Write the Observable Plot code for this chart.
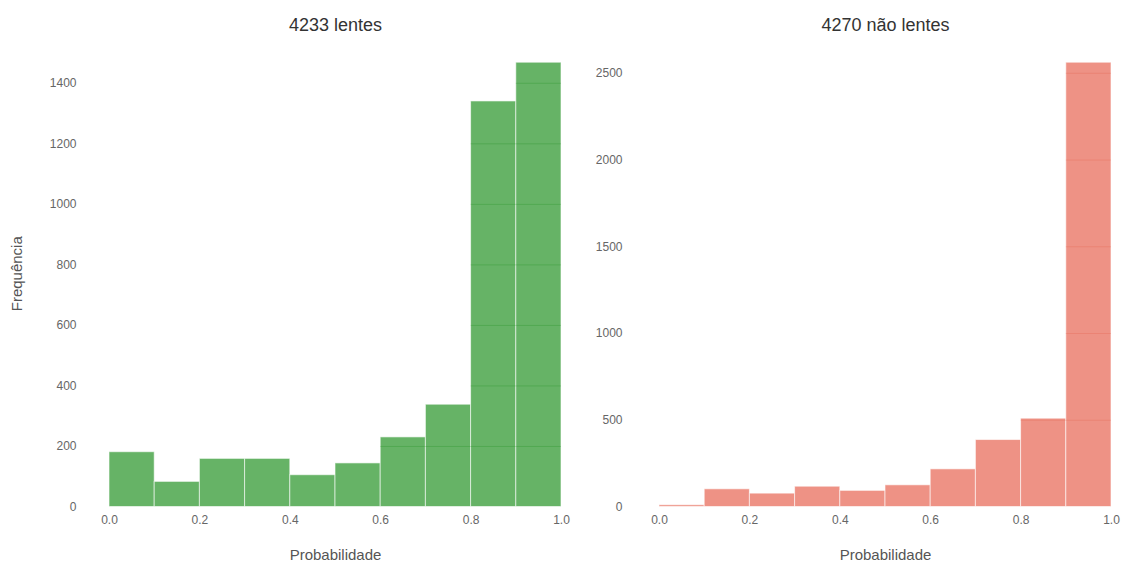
<!DOCTYPE html>
<html>
<head>
<meta charset="utf-8">
<script src="https://cdn.jsdelivr.net/npm/d3@7"></script>
<script src="https://cdn.jsdelivr.net/npm/@observablehq/plot@0.6"></script>
<style>
  body { margin: 0; background: #fff; }
  #charts { display: flex; width: 1128px; height: 565px; }
  #charts svg { overflow: visible; background: transparent; }
</style>
</head>
<body>
<div id="charts"></div>
<script>
// Histogram bin edges (10 bins over the probability range)
const binEdges = [0, 0.1, 0.2, 0.3, 0.4, 0.5, 0.6, 0.7, 0.8, 0.9, 1.0];

// Counts per bin
const lentesCounts = [181, 83, 159, 159, 105, 144, 230, 338, 1340, 1468];
const naoLentesCounts = [10, 102, 77, 117, 93, 125, 217, 386, 509, 2561];

// Tick values
const xTicks = [0, 0.2, 0.4, 0.6, 0.8, 1.0];
const lentesTicks = [0, 200, 400, 600, 800, 1000, 1200, 1400];
const naoLentesTicks = [0, 500, 1000, 1500, 2000, 2500];

// Titles and axis labels
const lentesTitle = "4233 lentes";
const naoLentesTitle = "4270 não lentes";
const xLabel = "Probabilidade";
const yLabel = "Frequência";

const FONT = "'Liberation Sans', Arial, sans-serif";

function panel({title, counts, yTicks, color, marginLeft, marginRight, tickPadding, showYLabel}) {
  const bins = counts.map((c, i) => ({x1: binEdges[i], x2: binEdges[i + 1], count: c}));
  // grid segments visible through the translucent bars
  const gridSegs = bins.flatMap(b =>
    yTicks.filter(t => t > 0 && t < b.count).map(t => ({x1: b.x1, x2: b.x2, y: t}))
  );
  const yMax = d3.max(counts) * 1.05;
  const marks = [
    Plot.rect(bins, {
      x1: "x1", x2: "x2", y1: 0, y2: "count",
      fill: color, fillOpacity: 0.6,
      stroke: "white", strokeOpacity: 0.6, strokeWidth: 1
    }),
    Plot.ruleY(gridSegs, {x1: "x1", x2: "x2", y: "y", stroke: color, strokeOpacity: 0.2, strokeWidth: 1}),
    Plot.axisX({ticks: xTicks, tickFormat: d3.format(".1f"), tickSize: 0, tickPadding: 8, label: null, fill: "#666"}),
    Plot.axisY({ticks: yTicks, tickFormat: d => String(d), tickSize: 0, tickPadding, label: null, fill: "#666"}),
    Plot.text([title], {frameAnchor: "top", dy: -15, fontSize: 18, fill: "#333", textAnchor: "middle", lineAnchor: "middle"}),
    Plot.text([xLabel], {frameAnchor: "bottom", dy: 48.5, fontSize: 15, fill: "#555", textAnchor: "middle", lineAnchor: "middle"})
  ];
  if (showYLabel) {
    marks.push(Plot.text([yLabel], {frameAnchor: "left", dx: -92, rotate: -90, fontSize: 15, fill: "#555", textAnchor: "middle", lineAnchor: "middle"}));
  }
  return Plot.plot({
    width: 564,
    height: 565,
    marginTop: 40,
    marginBottom: 58.5,
    marginLeft,
    marginRight,
    x: {domain: [0, 1]},
    y: {domain: [0, yMax]},
    style: {fontFamily: FONT, fontSize: "12px", color: "#666", background: "transparent", overflow: "visible"},
    marks
  });
}

const root = document.getElementById("charts");
root.append(panel({
  title: lentesTitle, counts: lentesCounts, yTicks: lentesTicks, color: "green",
  marginLeft: 109, marginRight: 3, tickPadding: 33, showYLabel: true
}));
root.append(panel({
  title: naoLentesTitle, counts: naoLentesCounts, yTicks: naoLentesTicks, color: "#E24A33",
  marginLeft: 95, marginRight: 17, tickPadding: 37, showYLabel: false
}));
</script>
</body>
</html>
